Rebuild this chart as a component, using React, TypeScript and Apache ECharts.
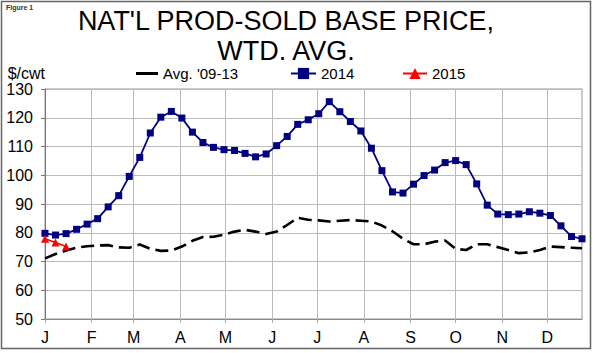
import React, { useEffect, useRef } from "react";
import * as echarts from "echarts";

// Weekly data, week index 0..51 (one point every 7 days from Jan 1)
const avg0913 = [71.1, 72.6, 73.8, 74.8, 75.3, 75.6, 75.7, 74.9, 74.8, 75.9,
  74.4, 73.7, 73.8, 75.2, 77.2, 78.5, 78.6, 79.3, 80.4, 81.0,
  80.4, 79.6, 80.4, 82.7, 85.2, 84.5, 84.3, 83.9, 84.2, 84.4,
  84.2, 83.9, 82.5, 80.5, 77.9, 76.0, 76.0, 76.9, 77.3, 74.4,
  74.0, 76.0, 76.0, 75.0, 74.0, 72.9, 73.2, 74.0, 75.2, 75.0,
  74.8, 74.6];
const y2014 = [79.8, 79.2, 79.7, 81.2, 83.0, 84.9, 89.0, 92.9, 99.6, 106.2,
  114.7, 120.2, 122.2, 119.9, 115.0, 111.4, 109.7, 108.9, 108.6, 107.6,
  106.4, 107.4, 110.3, 113.5, 117.7, 119.3, 121.4, 125.6, 122.1, 118.7,
  115.4, 109.4, 101.6, 94.2, 93.8, 96.9, 99.9, 101.8, 104.4, 105.1,
  103.7, 97.0, 89.6, 86.5, 86.3, 86.5, 87.3, 86.8, 86.0, 82.4,
  78.7, 77.9];
const y2015 = [77.9, 76.6, 75.2];

const monthLabels = ["J", "F", "M", "A", "M", "J", "J", "A", "S", "O", "N", "D"];
const monthStartDays = [0, 31, 59, 90, 120, 151, 181, 212, 243, 273, 304, 334];
const yTicks = { min: 50, max: 130, interval: 10 };
const daysPerWeek = 7;
const lastDay = 357;

const seriesNames = ["Avg. '09-13", "2014", "2015"];

const toPoints = (arr: number[]) => arr.map((v, i) => [i * daysPerWeek, v]);

const FONT = "'Liberation Sans', Arial, sans-serif";

export default function App() {
  const ref = useRef<HTMLDivElement>(null);
  useEffect(() => {
    document.body.style.margin = "0";
    if (!ref.current) return;
    const chart = echarts.init(ref.current, null, { renderer: "svg" });
    chart.setOption({
      animation: false,
      backgroundColor: "#ffffff",
      textStyle: { fontFamily: FONT },
      title: {
        text: "NAT'L PROD-SOLD BASE PRICE,\nWTD. AVG.",
        left: 286,
        top: 6,
        padding: 0,
        textAlign: "center",
        textStyle: {
          fontFamily: FONT,
          fontSize: 27,
          lineHeight: 30,
          fontWeight: "normal",
          color: "#000",
        },
      },
      legend: [
        {
          data: [seriesNames[0]],
          left: 136, top: 66, padding: 0,
          icon: "rect",
          itemWidth: 22, itemHeight: 3,
          itemStyle: { color: "#000" },
          textStyle: { fontSize: 15, color: "#000", fontFamily: FONT },
        },
        {
          data: [seriesNames[1]],
          left: 290, top: 66, padding: 0,
          itemWidth: 25, itemHeight: 14,
          textStyle: { fontSize: 15, color: "#000", fontFamily: FONT },
        },
        {
          data: [seriesNames[2]],
          left: 402, top: 66, padding: 0,
          itemWidth: 24, itemHeight: 14,
          textStyle: { fontSize: 15, color: "#000", fontFamily: FONT },
        },
      ],
      grid: {
        left: 45, right: 13, top: 89, bottom: 34,
        show: true, borderColor: "#999", borderWidth: 1,
        containLabel: false,
        outerBoundsMode: "none",
      },
      xAxis: {
        type: "value",
        min: 0,
        max: lastDay,
        axisLine: { show: true, lineStyle: { color: "#888", width: 1 } },
        axisTick: {
          show: true, customValues: monthStartDays, length: 4,
          lineStyle: { color: "#aaa" },
        },
        axisLabel: {
          customValues: monthStartDays,
          formatter: (v: number) => monthLabels[monthStartDays.indexOf(v)] ?? "",
          fontSize: 16, color: "#000", margin: 10, fontFamily: FONT,
        },
        splitLine: { show: true, lineStyle: { color: "#bbb", width: 1 } },
      },
      yAxis: {
        type: "value",
        min: yTicks.min,
        max: yTicks.max,
        interval: yTicks.interval,
        name: "$/cwt",
        nameLocation: "end",
        nameGap: 16,
        nameTextStyle: {
          align: "right", verticalAlign: "middle",
          fontSize: 16, color: "#000", fontFamily: FONT,
        },
        axisLine: { show: true, lineStyle: { color: "#777", width: 1 } },
        axisTick: { show: true, length: 4, lineStyle: { color: "#777" } },
        axisLabel: { fontSize: 16, color: "#000", margin: 12, fontFamily: FONT },
        splitLine: { show: true, lineStyle: { color: "#bbb", width: 1 } },
      },
      series: [
        {
          name: seriesNames[0],
          type: "line",
          data: toPoints(avg0913),
          symbol: "none",
          color: "#000000",
          lineStyle: { color: "#000000", width: 2.6, type: [13, 6] },
          z: 2,
        },
        {
          name: seriesNames[1],
          type: "line",
          data: toPoints(y2014),
          symbol: "rect",
          symbolSize: 7,
          color: "#000080",
          lineStyle: { color: "#000080", width: 1.8 },
          itemStyle: { color: "#000080" },
          z: 3,
        },
        {
          name: seriesNames[2],
          type: "line",
          data: toPoints(y2015),
          symbol: "triangle",
          symbolSize: 8,
          color: "#ff0000",
          lineStyle: { color: "#ff0000", width: 1.5 },
          itemStyle: { color: "#ff0000" },
          z: 4,
        },
      ],
      graphic: [
        {
          type: "rect",
          shape: { x: 1.5, y: 1.5, width: 589, height: 347 },
          style: { fill: "none", stroke: "#666", lineWidth: 1.5 },
          silent: true,
          z: -1,
        },
        {
          type: "text",
          left: 6,
          top: 4,
          style: {
            text: "Figure 1",
            fontSize: 7,
            fontWeight: "bold",
            fill: "#333",
            fontFamily: FONT,
          },
          silent: true,
        },
      ],
    });
    return () => chart.dispose();
  }, []);
  return <div ref={ref} style={{ width: 595, height: 353 }} />;
}
